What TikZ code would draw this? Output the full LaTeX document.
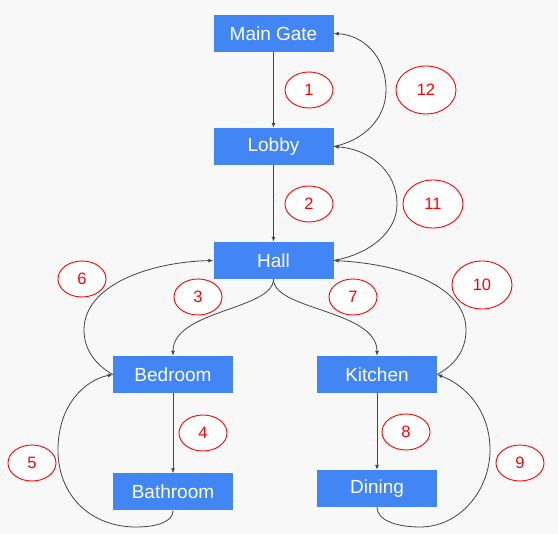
\documentclass[tikz,border=0pt]{standalone}
\usepackage{fontspec}
\setmainfont{Liberation Sans}
\usetikzlibrary{shapes.geometric,arrows.meta}
\definecolor{boxblue}{HTML}{4285F4}
\definecolor{bgc}{HTML}{F8F8F8}
\definecolor{linec}{HTML}{444444}
\tikzset{
  room/.style={fill=boxblue, text=white, minimum width=120pt, minimum height=37pt, inner sep=0pt, font=\fontsize{19}{22}\selectfont},
  num/.style={ellipse, draw=red, line width=0.9pt, fill=white, text=red, inner sep=0pt, minimum width=48pt, minimum height=36pt, font=\fontsize{16.5}{19}\selectfont},
  bignum/.style={num, minimum width=60pt, minimum height=48pt},
  conn/.style={draw=linec, line width=0.8pt, -{Latex[length=5pt,width=4pt]}}
}
\begin{document}
\begin{tikzpicture}[x=1pt,y=-1pt]
\fill[bgc] (0,0) rectangle (558,534);
\useasboundingbox (0,0) rectangle (558,534);
% rooms
\node[room] (gate) at (273.5,33.5) {Main Gate};
\node[room] (lobby) at (273.5,146.5) {Lobby};
\node[room] (hall) at (273.5,260.5) {Hall};
\node[room] (bed) at (173,374.5) {Bedroom};
\node[room] (bath) at (173,492) {Bathroom};
\node[room] (kit) at (377,374.5) {Kitchen};
\node[room] (din) at (377,488.5) {Dining};
% straight connectors
\draw[conn] (gate) -- (lobby);
\draw[conn] (lobby) -- (hall);
\draw[conn] (bed) -- (bath);
\draw[conn] (kit) -- (din);
% curved connectors
\draw[conn] (hall.south) .. controls (273,310) and (173,310) .. (bed.north);
\draw[conn] (hall.south) .. controls (273,310) and (377,310) .. (kit.north);
\draw[conn] (lobby.east) .. controls (362,141) and (386,120) .. (386,90) .. controls (386,55) and (362,35) .. (gate.east);
\draw[conn] (hall.east) .. controls (370,254) and (397,232) .. (397,204) .. controls (397,170) and (368,149) .. (lobby.east);
\draw[conn] (bed.west) .. controls (96,365) and (84,350) .. (84,330) .. controls (84,285) and (150,262) .. (hall.west);
\draw[conn] (bath.south) .. controls (173,522) and (156,527) .. (136,527) .. controls (90,527) and (58,495) .. (58,450) .. controls (58,405) and (85,380) .. (bed.west);
\draw[conn] (kit.east) .. controls (455,365) and (466,350) .. (466,330) .. controls (466,285) and (400,264) .. (hall.east);
\draw[conn] (din.south) .. controls (377,520) and (396,527) .. (420,527) .. controls (460,527) and (490,490) .. (490,450) .. controls (490,410) and (465,385) .. (kit.east);
% numbers
\node[num] (n1) at (309,90) {1};
\node[num] (n2) at (309,204) {2};
\node[num] (n3) at (198,297) {3};
\node[num] (n4) at (203,433) {4};
\node[num] (n5) at (32,463) {5};
\node[num] (n6) at (82,279) {6};
\node[num] (n7) at (353,297) {7};
\node[num] (n8) at (406,432) {8};
\node[num] (n9) at (520,463) {9};
\node[bignum] (n10) at (482,285) {10};
\node[bignum] (n11) at (433,204) {11};
\node[bignum] (n12) at (426,90) {12};
\end{tikzpicture}
\end{document}
